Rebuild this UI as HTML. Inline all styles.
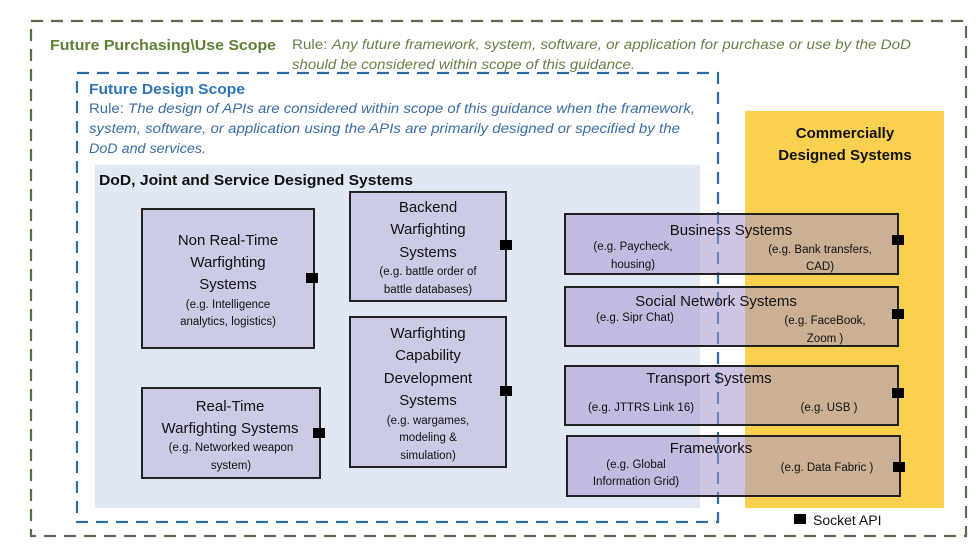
<!DOCTYPE html>
<html><head><style>html,body{margin:0;padding:0;background:#fff}svg{display:block}</style></head><body>
<svg width="979" height="546" viewBox="0 0 979 546" xmlns="http://www.w3.org/2000/svg" font-family="'Liberation Sans', sans-serif">
<rect x="0" y="0" width="979" height="546" fill="#fff"/>
<rect x="31" y="21" width="935" height="515" fill="none" stroke="#5a6b4e" stroke-width="2.2" stroke-dasharray="12,8"/>
<rect x="745" y="111" width="199" height="397" fill="#f9d050"/>
<rect x="95" y="165" width="605" height="343" fill="#dfe8f3"/>
<rect x="77" y="73" width="641" height="449" fill="none" stroke="#2e6ca4" stroke-width="2.2" stroke-dasharray="12,8"/>

<g font-size="15" font-weight="bold">
<text x="50" y="50" fill="#5f7f33" textLength="226" lengthAdjust="spacingAndGlyphs">Future Purchasing\Use Scope</text>
<text x="89" y="94" fill="#2e74b5" textLength="156" lengthAdjust="spacingAndGlyphs">Future Design Scope</text>
<text x="99" y="185" fill="#111" textLength="314" lengthAdjust="spacingAndGlyphs">DoD, Joint and Service Designed Systems</text>
</g>
<g font-size="13.5">
<text x="292" y="49" fill="#6a7f47" textLength="619" lengthAdjust="spacingAndGlyphs">Rule: <tspan font-style="italic">Any future framework, system, software, or application for purchase or use by the DoD</tspan></text>
<text x="292" y="69" fill="#6a7f47" font-style="italic" textLength="343" lengthAdjust="spacingAndGlyphs">should be considered within scope of this guidance.</text>
<text x="89" y="113" fill="#3a6ea5" textLength="606" lengthAdjust="spacingAndGlyphs">Rule: <tspan font-style="italic">The design of APIs are considered within scope of this guidance when the framework,</tspan></text>
<text x="89" y="133" fill="#3a6ea5" font-style="italic" textLength="591" lengthAdjust="spacingAndGlyphs">system, software, or application using the APIs are primarily designed or specified by the</text>
<text x="89" y="153" fill="#3a6ea5" font-style="italic" textLength="117" lengthAdjust="spacingAndGlyphs">DoD and services.</text>
</g>
<g font-size="15" font-weight="bold" fill="#111" text-anchor="middle">
<text x="845" y="138">Commercially</text>
<text x="845" y="160">Designed Systems</text>
</g>

<g fill="#cccbe6" stroke="#222" stroke-width="2">
<rect x="142" y="209" width="172" height="139"/>
<rect x="350" y="192" width="156" height="109"/>
<rect x="350" y="317" width="156" height="150"/>
<rect x="142" y="388" width="178" height="90"/>
</g>
<g fill="rgba(165,150,205,0.55)" stroke="#222" stroke-width="2">
<rect x="565" y="214" width="333" height="60"/>
<rect x="565" y="287" width="333" height="59"/>
<rect x="565" y="366" width="333" height="59"/>
<rect x="567" y="436" width="333" height="60"/>
</g>
<g fill="#000">
<rect x="306" y="273" width="12" height="10"/>
<rect x="500" y="240" width="12" height="10"/>
<rect x="500" y="386" width="12" height="10"/>
<rect x="313" y="428" width="12" height="10"/>
<rect x="892" y="235" width="12" height="10"/>
<rect x="892" y="309" width="12" height="10"/>
<rect x="892" y="388" width="12" height="10"/>
<rect x="893" y="462" width="12" height="10"/>
<rect x="794" y="514" width="12" height="10"/>
</g>
<text x="813" y="525" font-size="14" fill="#111">Socket API</text>

<g fill="#111" text-anchor="middle">
<g font-size="15">
<text x="228" y="245">Non Real-Time</text>
<text x="228" y="267">Warfighting</text>
<text x="228" y="289">Systems</text>
<text x="428" y="212">Backend</text>
<text x="428" y="234">Warfighting</text>
<text x="428" y="257">Systems</text>
<text x="428" y="338">Warfighting</text>
<text x="428" y="360">Capability</text>
<text x="428" y="383">Development</text>
<text x="428" y="405">Systems</text>
<text x="230" y="411">Real-Time</text>
<text x="230" y="433">Warfighting Systems</text>
<text x="731" y="235">Business Systems</text>
<text x="716" y="306">Social Network Systems</text>
<text x="709" y="383">Transport Systems</text>
<text x="711" y="453">Frameworks</text>
</g>
<g font-size="11.5">
<text x="228" y="308">(e.g. Intelligence</text>
<text x="228" y="325">analytics, logistics)</text>
<text x="428" y="275">(e.g. battle order of</text>
<text x="428" y="293">battle databases)</text>
<text x="428" y="424">(e.g. wargames,</text>
<text x="428" y="441">modeling &amp;</text>
<text x="428" y="459">simulation)</text>
<text x="231" y="451">(e.g. Networked weapon</text>
<text x="231" y="469">system)</text>
<text x="633" y="250">(e.g. Paycheck,</text>
<text x="633" y="268">housing)</text>
<text x="820" y="253">(e.g. Bank transfers,</text>
<text x="820" y="270">CAD)</text>
<text x="635" y="321">(e.g. Sipr Chat)</text>
<text x="825" y="324">(e.g. FaceBook,</text>
<text x="825" y="342">Zoom )</text>
<text x="641" y="411">(e.g. JTTRS Link 16)</text>
<text x="829" y="411">(e.g. USB )</text>
<text x="636" y="468">(e.g. Global</text>
<text x="636" y="485">Information Grid)</text>
<text x="827" y="471">(e.g. Data Fabric )</text>
</g>
</g>
</svg>
</body></html>
